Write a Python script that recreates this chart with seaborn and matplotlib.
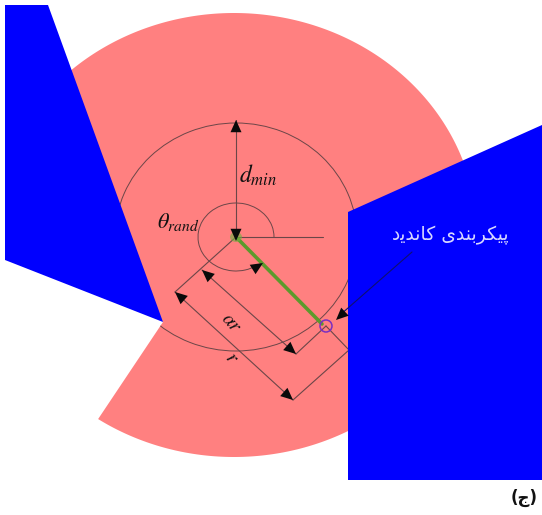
import numpy as np
import pandas as pd
import matplotlib
matplotlib.use("Agg")
import matplotlib.pyplot as plt
from matplotlib.patches import Polygon, Arc, Ellipse
import seaborn as sns

sns.set_theme(style="white")
plt.rcParams['font.family'] = ['DejaVu Sans']
plt.rcParams['mathtext.fontset'] = 'stix'

RED = "#FF8080"
BLUE = "#0000FF"
LINE = "#6b4648"
BLACK = "#0a0a0a"

CENTER = (236, 237)
sector_center = (234, 235)
sector_pivot = (163, 322)
sector_hidden = (110, 250)
sector_radii = (243, 222)
sector_angles = (-124, 134)
circle_radii = (121, 114)
angle_radii = (38, 34)
angle_span = (0, 306)

left_obstacle = [(5, 5), (48, 5), (163, 322), (5, 260)]
right_obstacle = [(348, 212), (542, 125), (542, 480), (348, 480)]

segments = {
    "dmin": [(236, 237), (236, 120)],
    "zero": [(236, 237), (323, 237)],
    "perp": [(236, 237), (175, 292)],
    "r": [(175, 292), (293, 400)],
    "r_end": [(293, 400), (349, 350)],
    "ar": [(202, 270), (296, 354)],
    "ar_end": [(296, 354), (326, 326)],
    "ext": [(326, 326), (349, 350)],
}
green_path = [(236, 237), (322, 324)]
leader = [(412, 252), (340, 315)]
arrows = [  # tip, tail
    ((236, 120), (236, 140)),
    ((236, 241), (236, 222)),
    ((263, 263), (247, 273)),
    ((175, 292), (191, 306)),
    ((293, 400), (277, 386)),
    ((202, 270), (218, 284)),
    ((296, 354), (280, 340)),
    ((336, 320), (350, 307)),
]

# visual-order Arabic presentation forms, since matplotlib has no text shaping
label_candidate = "\uFEA9\uFBFE\uFEAA\uFEE7\uFE8E\uFB90 \uFBFC\uFEAA\uFEE8\uFE91\uFEAE\uFB91\uFBFF\uFB58"
label_panel = "(\uFE9D)"

fig = plt.figure(figsize=(5.42, 5.15), dpi=100)
ax = fig.add_axes([0, 0, 1, 1])
ax.set_xlim(0, 542)
ax.set_ylim(515, 0)
ax.axis("off")

t = np.radians(np.linspace(sector_angles[0], sector_angles[1], 300))
xs = sector_center[0] + sector_radii[0] * np.cos(t)
ys = sector_center[1] - sector_radii[1] * np.sin(t)
sector = Polygon(np.r_[[sector_pivot], np.c_[xs, ys], [sector_hidden]], closed=True,
                 fc=RED, ec="none", zorder=1)
ax.add_patch(sector)

circle = Arc(CENTER, 2 * circle_radii[0], 2 * circle_radii[1], theta1=0, theta2=360,
             ec=LINE, lw=0.7, zorder=3)
ax.add_patch(circle)
circle.set_clip_path(sector)
ax.add_patch(Arc(CENTER, 2 * angle_radii[0], 2 * angle_radii[1], theta1=360 - angle_span[1],
                 theta2=360, ec=LINE, lw=0.7, zorder=3))

for name, seg in segments.items():
    df = pd.DataFrame(seg, columns=["x", "y"])
    sns.lineplot(data=df, x="x", y="y", sort=False, estimator=None, ax=ax,
                 color=LINE, lw=0.8, zorder=4)
ax.add_patch(Polygon(left_obstacle, closed=True, fc=BLUE, ec="none", zorder=4.5))
ax.add_patch(Polygon(right_obstacle, closed=True, fc=BLUE, ec="none", zorder=4.5))
df = pd.DataFrame(leader, columns=["x", "y"])
sns.lineplot(data=df, x="x", y="y", sort=False, estimator=None, ax=ax, color="#101070", lw=0.8, zorder=5)
df = pd.DataFrame(green_path, columns=["x", "y"])
sns.lineplot(data=df, x="x", y="y", sort=False, estimator=None, ax=ax, color="#5c9a2c", lw=2.6, zorder=5)
ax.set_xlabel("")
ax.set_ylabel("")
ax.set_xlim(0, 542)
ax.set_ylim(515, 0)

ax.add_patch(Ellipse((236, 237), 12, 10, fc="#6fb040", ec="none", alpha=0.6, zorder=5))
ax.add_patch(Ellipse((326, 326), 12, 12, fc="none", ec="#7a30c0", lw=1.1, zorder=6))

for tip, tail in arrows:
    ax.annotate("", xy=tip, xytext=tail, zorder=7,
                arrowprops=dict(arrowstyle="-|>,head_length=0.8,head_width=0.36",
                                color=BLACK, lw=0, shrinkA=0, shrinkB=0, mutation_scale=11))

ax.text(239, 175, r"$d_{min}$", fontsize=17, color="#111111", va="center", ha="left", zorder=8)
ax.text(157, 222, r"$\theta_{rand}$", fontsize=16, color="#111111", va="center", ha="left", zorder=8)
ax.text(232, 323, r"$\alpha r$", fontsize=14, color="#111111", va="center", ha="center", rotation=-48, zorder=8)
ax.text(232, 358, r"$r$", fontsize=14, color="#111111", va="center", ha="center", rotation=-48, zorder=8)
ax.text(450, 235, label_candidate, fontsize=13.5, color="#d8d8ff", va="center", ha="center", zorder=8)
ax.text(524, 498, label_panel, fontsize=12, color="#111111", fontweight="bold", va="center", ha="center", zorder=8)

fig.savefig("out.png", dpi=100)
